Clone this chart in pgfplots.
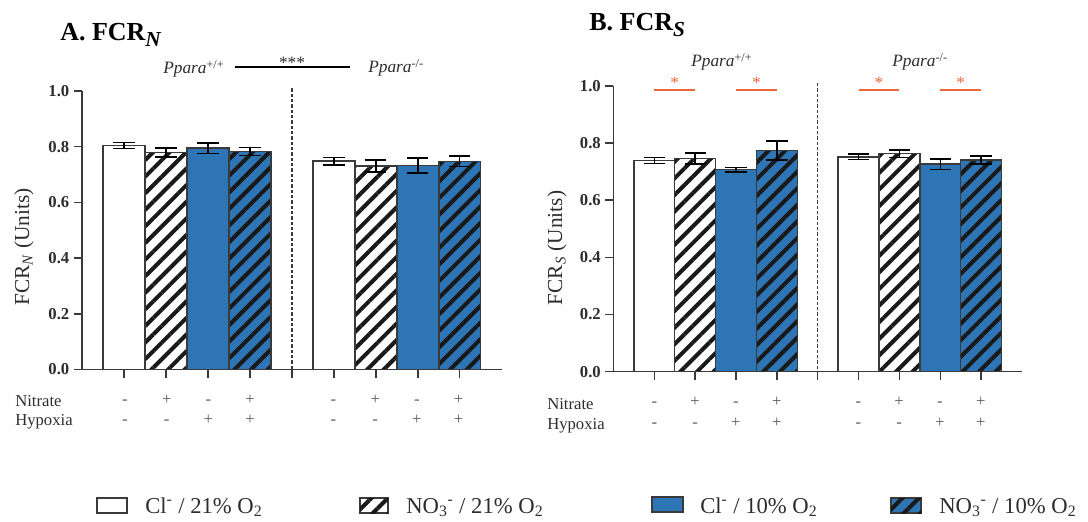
\documentclass[border=0pt]{standalone}
\usepackage{fontspec}
\setmainfont{Liberation Serif}
\usepackage{pgfplots}
\pgfplotsset{compat=1.18}
\usetikzlibrary{patterns.meta}

\definecolor{barblue}{RGB}{46,117,182}
\definecolor{sigred}{RGB}{240,104,58}
\definecolor{edge}{RGB}{58,58,58}
\definecolor{txt}{RGB}{45,45,45}

\tikzset{
  hatch/.style={postaction={pattern={Lines[angle=45,distance=8.8pt,line width=3pt]},pattern color=black!90}},
}

\pgfplotsset{
  fcr/.style={
    scale only axis, ybar, bar width=1, bar shift=0pt,
    xmin=0, xmax=10, ymin=0, ymax=1,
    axis x line*=bottom, axis y line*=left,
    axis line style={edge, line width=1.1pt},
    xtick={1,2,3,4,5,6,7,8,9}, xticklabels={,,,,,,,,},
    ytick={0,0.2,0.4,0.6,0.8,1.0},
    yticklabels={0.0,0.2,0.4,0.6,0.8,1.0},
    yticklabel style={font=\fontsize{12.5}{13}\selectfont\bfseries, text=txt},
    tick align=outside, major tick length=6pt,
    tick style={edge, line width=1.1pt},
    clip=false,
    error bars/y dir=both, error bars/y explicit,
    error bars/error bar style={black, line width=1.1pt},
    error bars/error mark options={black, rotate=90, mark size=8pt, line width=1.1pt},
  },
  s1/.style={draw=edge, line width=1.1pt, fill=white},
  s2/.style={draw=edge, line width=1.1pt, fill=white, hatch},
  s3/.style={draw=edge, line width=1.1pt, fill=barblue},
  s4/.style={draw=edge, line width=1.1pt, fill=barblue, hatch},
}

\begin{document}
\begin{tikzpicture}
\path[use as bounding box] (0,0) rectangle (816pt,390.75pt);

% ---------- panel A: FCR_N ----------
\begin{axis}[fcr, at={(61.5pt,113.6pt)}, anchor=south west,
             width=314.8pt, height=208.9pt]
  \addplot[s1] coordinates {(1,0.804) +- (0,0.011) (6,0.748) +- (0,0.014)};
  \addplot[s2] coordinates {(2,0.779) +- (0,0.016) (7,0.731) +- (0,0.022)};
  \addplot[s3] coordinates {(3,0.795) +- (0,0.019) (8,0.732) +- (0,0.027)};
  \addplot[s4] coordinates {(4,0.783) +- (0,0.015) (9,0.747) +- (0,0.019)};
  \draw[edge, line width=1.1pt, dash pattern=on 2.5pt off 1.5pt] (axis cs:5,1.01) -- (axis cs:5,0);
\end{axis}

% ---------- panel B: FCR_S ----------
\begin{axis}[fcr, at={(460.1pt,112pt)}, anchor=south west,
             width=306.4pt, height=214.3pt]
  \addplot[s1] coordinates {(1,0.739) +- (0,0.010) (6,0.752) +- (0,0.009)};
  \addplot[s2] coordinates {(2,0.746) +- (0,0.019) (7,0.763) +- (0,0.013)};
  \addplot[s3] coordinates {(3,0.707) +- (0,0.008) (8,0.726) +- (0,0.018)};
  \addplot[s4] coordinates {(4,0.774) +- (0,0.033) (9,0.740) +- (0,0.014)};
  \draw[edge, line width=1.1pt, dash pattern=on 2.5pt off 1.5pt] (axis cs:5,1.01) -- (axis cs:5,0);
  \draw[sigred, line width=1.1pt] (axis cs:1,0.986) -- (axis cs:2,0.986);
  \draw[sigred, line width=1.1pt] (axis cs:3,0.986) -- (axis cs:4,0.986);
  \draw[sigred, line width=1.1pt] (axis cs:6,0.986) -- (axis cs:7,0.986);
  \draw[sigred, line width=1.1pt] (axis cs:8,0.986) -- (axis cs:9,0.986);
  \node[sigred, anchor=base, inner sep=0pt, font=\fontsize{13}{13}\selectfont] at (axis cs:1.5,0.99) {*};
  \node[sigred, anchor=base, inner sep=0pt, font=\fontsize{13}{13}\selectfont] at (axis cs:3.5,0.99) {*};
  \node[sigred, anchor=base, inner sep=0pt, font=\fontsize{13}{13}\selectfont] at (axis cs:6.5,0.99) {*};
  \node[sigred, anchor=base, inner sep=0pt, font=\fontsize{13}{13}\selectfont] at (axis cs:8.5,0.99) {*};
\end{axis}

% ---------- annotations, in pixel units of the reference ----------
\begin{scope}[x=0.75pt, y=-0.75pt, yshift=390.75pt, text=txt]
  % titles
  \node[anchor=base west, inner sep=0pt, font=\fontsize{19.5}{20}\selectfont\bfseries, text=black]
    at (60,41) {A. FCR\raisebox{-4pt}{\fontsize{16}{16}\selectfont\itshape N}};
  \node[anchor=base west, inner sep=0pt, font=\fontsize{19.5}{20}\selectfont\bfseries, text=black]
    at (589,31) {B. FCR\raisebox{-4pt}{\fontsize{16}{16}\selectfont\itshape S}};

  % genotype labels
  \node[anchor=base west, inner sep=0pt, font=\fontsize{13}{13}\selectfont] at (163,74) {\textit{Ppara}\textsuperscript{+/+}};
  \node[anchor=base west, inner sep=0pt, font=\fontsize{13}{13}\selectfont] at (368,73) {\textit{Ppara}\textsuperscript{-/-}};
  \draw[black, line width=0.8pt] (235,67) -- (350,67);
  \node[anchor=base, inner sep=0pt, font=\fontsize{13}{13}\selectfont] at (292,69) {***};
  \node[anchor=base west, inner sep=0pt, font=\fontsize{13}{13}\selectfont] at (691,67) {\textit{Ppara}\textsuperscript{+/+}};
  \node[anchor=base west, inner sep=0pt, font=\fontsize{13}{13}\selectfont] at (892,67) {\textit{Ppara}\textsuperscript{-/-}};

  % y labels
  \node[rotate=90, font=\fontsize{16}{16}\selectfont] at (24,247) {FCR\textsubscript{\textit{N}} (Units)};
  \node[rotate=90, font=\fontsize{16}{16}\selectfont] at (557,248) {FCR\textsubscript{\textit{S}} (Units)};

  % treatment rows
  \begin{scope}[font=\fontsize{12.5}{13}\selectfont]
    \node[anchor=base west, inner sep=0pt] at (15,407) {Nitrate};
    \node[anchor=base west, inner sep=0pt] at (15,426) {Hypoxia};
    \node[anchor=base west, inner sep=0pt] at (547,410) {Nitrate};
    \node[anchor=base west, inner sep=0pt] at (547,430) {Hypoxia};
    \foreach \xx/\n/\h in {125/-/-, 166.7/+/-, 208.4/-/+, 250.1/+/+, 333.5/-/-, 375.2/+/-, 416.9/-/+, 458.6/+/+}{
      \node[anchor=base, inner sep=0pt, text=black!65] at (\xx,405) {\n};
      \node[anchor=base, inner sep=0pt, text=black!65] at (\xx,424.5) {\h};
    }
    \foreach \xx/\n/\h in {654.3/-/-, 695.1/+/-, 735.9/-/+, 776.7/+/+, 858.3/-/-, 899.1/+/-, 939.9/-/+, 980.7/+/+}{
      \node[anchor=base, inner sep=0pt, text=black!65] at (\xx,407) {\n};
      \node[anchor=base, inner sep=0pt, text=black!65] at (\xx,428) {\h};
    }
  \end{scope}

  % legend
  \begin{scope}[font=\fontsize{17}{17}\selectfont]
    \draw[edge, line width=1pt, fill=white] (97,498) rectangle (127,513);
    \node[anchor=base west, inner sep=0pt] at (145,513) {Cl\textsuperscript{-} / 21\% O\textsubscript{2}};
    \draw[edge, line width=1pt, fill=white, hatch] (360,498) rectangle (388,513);
    \node[anchor=base west, inner sep=0pt] at (406,513) {NO\textsubscript{3}\textsuperscript{-} / 21\% O\textsubscript{2}};
    \draw[edge, line width=1pt, fill=barblue] (652,497) rectangle (683,512);
    \node[anchor=base west, inner sep=0pt] at (700,513) {Cl\textsuperscript{-} / 10\% O\textsubscript{2}};
    \draw[edge, line width=1pt, fill=barblue, hatch] (891,498) rectangle (921,513);
    \node[anchor=base west, inner sep=0pt] at (939,513) {NO\textsubscript{3}\textsuperscript{-} / 10\% O\textsubscript{2}};
  \end{scope}
\end{scope}
\end{tikzpicture}
\end{document}
